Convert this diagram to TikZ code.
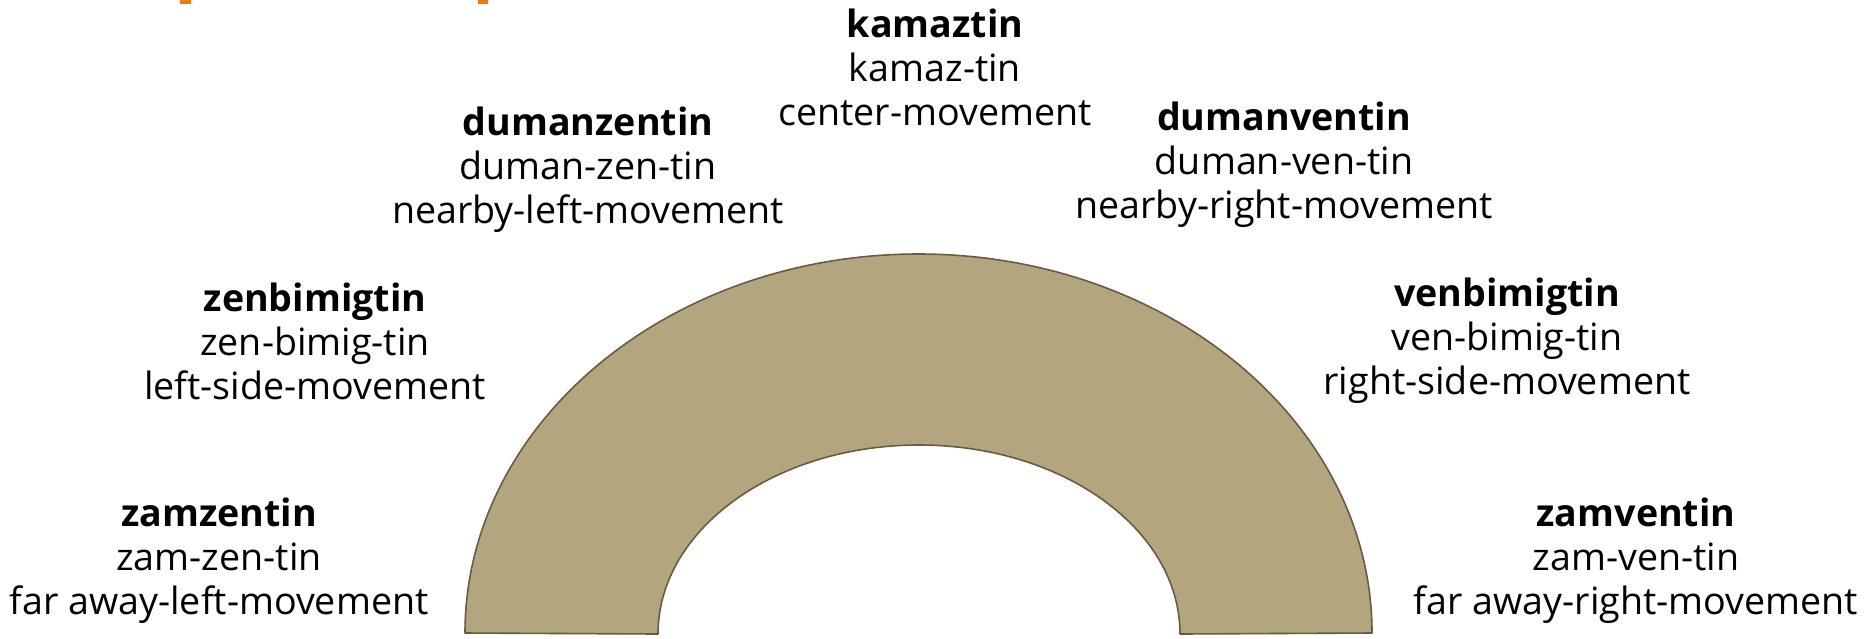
\documentclass[tikz,border=0pt]{standalone}
\usepackage{fontspec}
\setmainfont{Open Sans}
\usepackage{tikz}
\usetikzlibrary{positioning}
\definecolor{arch}{HTML}{B3A67E}
\definecolor{archline}{HTML}{685B45}
\definecolor{ttl}{HTML}{F07A12}

\begin{document}
\begin{tikzpicture}[
    x=0.5pt, y=-0.5pt,
    lbl/.style={align=center, inner sep=0pt,
                font=\fontsize{18.8}{22}\selectfont},
    band/.style={fill=arch, draw=archline, line width=0.8pt, line join=round},
  ]
  \useasboundingbox (0,0) rectangle (1866,638);

  % cut-off bits of the title above the picture
  \fill[ttl] (180,0) rectangle (191,4);
  \fill[ttl] (478,0) rectangle (488,4);

  % the half ring: outer arc, then inner arc back
  \draw[band] (465,633) arc[start angle=180, end angle=0, x radius=453.5, y radius=-379]
    -- (1180,634) arc[start angle=0, end angle=180, x radius=261, y radius=-189] -- cycle;

  % labels round the ring, from the centre outwards
  \node[lbl] (kam)  at (935,67)  {\textbf{kamaztin}\\kamaz-tin\\center-movement};
  \node[lbl] (dzen) at (588,170) {\textbf{dumanzentin}\\duman-zen-tin\\nearby-left-movement};
  \node[lbl] (dven) at (1284,165) {\textbf{dumanventin}\\duman-ven-tin\\nearby-right-movement};
  \node[lbl] (zbim) at (315,341) {\textbf{zenbimigtin}\\zen-bimig-tin\\left-side-movement};
  \node[lbl] (vbim) at (1507,341) {\textbf{venbimigtin}\\ven-bimig-tin\\right-side-movement};
  \node[lbl] (zzen) at (219,561) {\textbf{zamzentin}\\zam-zen-tin\\far away-left-movement};
  \node[lbl] (zven) at (1636,561) {\textbf{zamventin}\\zam-ven-tin\\far away-right-movement};
\end{tikzpicture}
\end{document}
